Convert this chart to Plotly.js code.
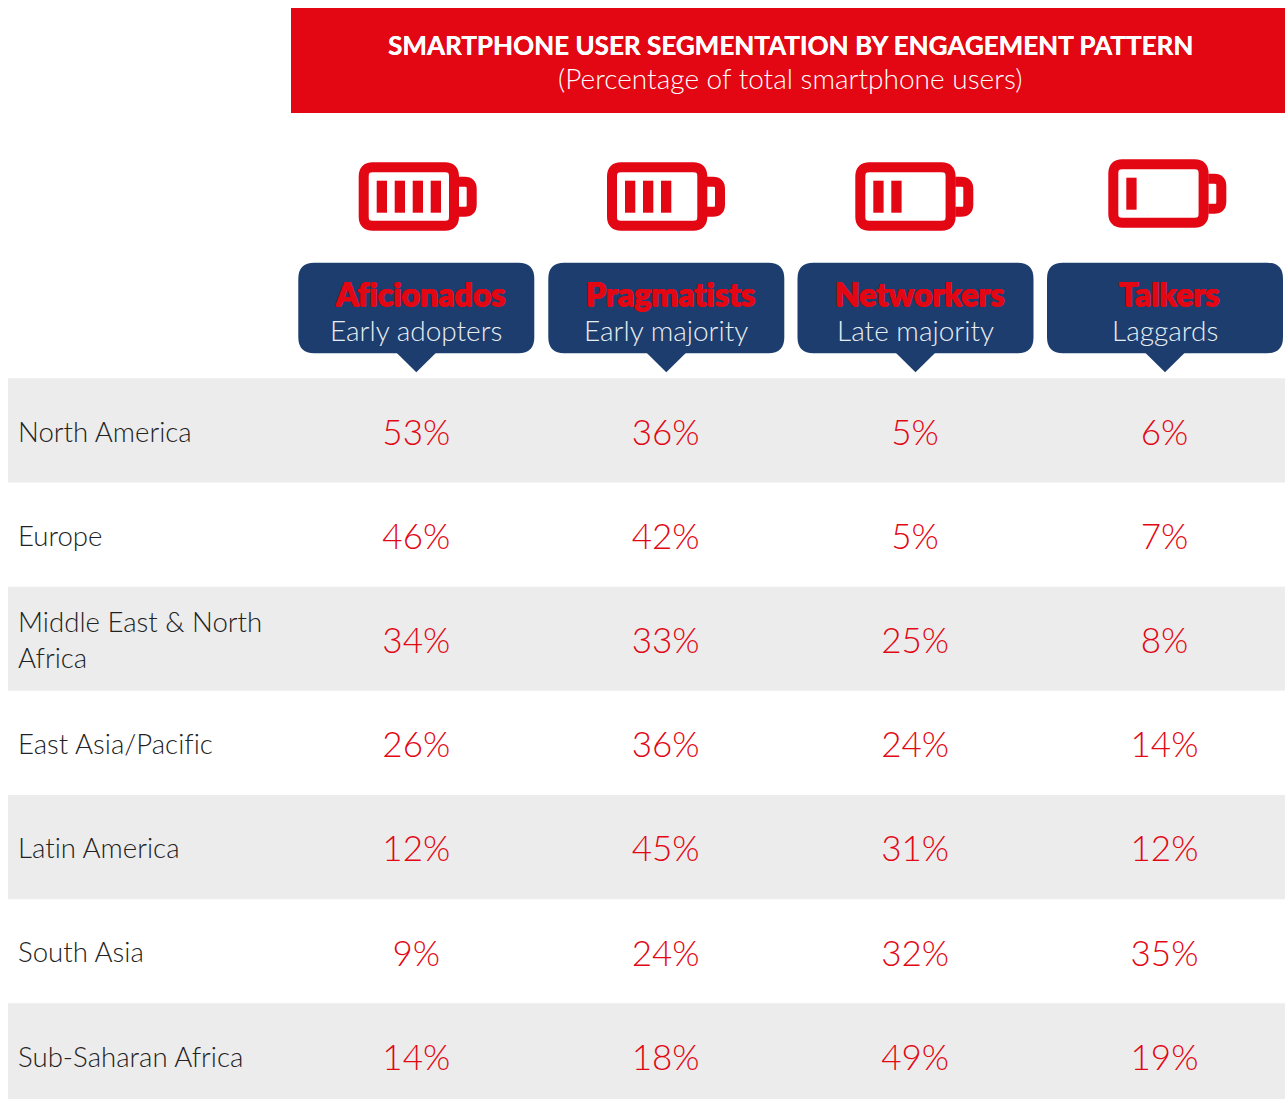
<!DOCTYPE html>
<html><head><meta charset="utf-8">
<script src="https://cdn.plot.ly/plotly-3.0.1.min.js"></script>
<style>html,body{margin:0;padding:0;background:#fff;overflow:hidden} svg text{font-variant-ligatures:none !important;font-feature-settings:"liga" 0,"clig" 0 !important;letter-spacing:0.01px}</style>
</head><body><div id="chart" style="width:1285px;height:1099px"></div>
<script>
const regions = ["North America","Europe","Middle East & North<br>Africa","East Asia/Pacific","Latin America","South Asia","Sub-Saharan Africa"];
const segments = ["Aficionados","Pragmatists","Networkers","Talkers"];
const adoption = ["Early adopters","Early majority","Late majority","Laggards"];
const batteryBars = [4,3,2,1];
const aficionados = [53,46,34,26,12,9,14];
const pragmatists = [36,42,33,36,45,24,18];
const networkers = [5,5,25,24,31,32,49];
const talkers = [6,7,8,14,12,35,19];
const titleMain = "SMARTPHONE USER SEGMENTATION BY ENGAGEMENT PATTERN";
const titleSub = "(Percentage of total smartphone users)";

const W=1285,H=1099,RED="#e30613",BLUE="#1c3d6e",GREY="#ececec",INK="#222222";
const FONT="Lato, sans-serif";
const px=x=>x/W, py=y=>1-y/H;
const P=(x,y)=>px(x)+","+py(y);
function rr(x0,y0,x1,y1,r){return "M"+P(x0+r,y0)+"L"+P(x1-r,y0)+"Q"+P(x1,y0)+" "+P(x1,y0+r)+"L"+P(x1,y1-r)+"Q"+P(x1,y1)+" "+P(x1-r,y1)+"L"+P(x0+r,y1)+"Q"+P(x0,y1)+" "+P(x0,y1-r)+"L"+P(x0,y0+r)+"Q"+P(x0,y0)+" "+P(x0+r,y0)+"Z";}
const paperShape=(path,o)=>Object.assign({type:"path",xref:"paper",yref:"paper",path:path,line:{width:0},layer:"below"},o);
const note=(x,y,text,font)=>({xref:"paper",yref:"paper",x:px(x),y:py(y),xanchor:"center",yanchor:"middle",text:text,showarrow:false,font:font});
const heavy=c=>`0.7px 0 0 ${c}, -0.7px 0 0 ${c}, 0 0.5px 0 ${c}, 0 -0.5px 0 ${c}`;

const shapes=[], annotations=[];
const rowH=104.17, rowTop=378.3;
shapes.push({type:"rect",xref:"paper",yref:"paper",x0:px(291),x1:1,y0:py(113),y1:py(8),fillcolor:RED,line:{width:0},layer:"below"});
annotations.push(note(790,44.5,titleMain,{family:FONT,size:26,color:"#fff",weight:700,shadow:"0.3px 0 0 #fff"}));
annotations.push(note(790,78,titleSub,{family:FONT,size:28,color:"#fff",weight:300}));
regions.forEach((r,i)=>{ if(i%2===0) shapes.push({type:"rect",xref:"paper",yref:"paper",x0:px(8),x1:1,y0:py(rowTop+rowH*(i+1)),y1:py(rowTop+rowH*i),fillcolor:GREY,line:{width:0},layer:"below"}); });
const batX=[358.7,607,855.3,1108.3], batY=[162.3,162.3,162.3,159.3];
const boxX=[298.3,548.3,797.5,1047];
segments.forEach((s,i)=>{
  const x=batX[i],y=batY[i];
  shapes.push(paperShape(rr(x+5,y+5,x+95.3,y+63.4,9),{line:{color:RED,width:10},fillcolor:"rgba(0,0,0,0)"}));
  shapes.push(paperShape("M"+P(x+100,y+19.4)+"L"+P(x+106,y+19.4)+"Q"+P(x+113,y+19.4)+" "+P(x+113,y+26.4)+"L"+P(x+113,y+42.4)+"Q"+P(x+113,y+49.4)+" "+P(x+106,y+49.4)+"L"+P(x+100,y+49.4),{line:{color:RED,width:10},fillcolor:"rgba(0,0,0,0)"}));
  for(let b=0;b<batteryBars[i];b++){
    const bx=x+18+18*b;
    shapes.push({type:"rect",xref:"paper",yref:"paper",x0:px(bx),x1:px(bx+10.3),y0:py(y+50.4),y1:py(y+18.4),fillcolor:RED,line:{width:0},layer:"below"});
  }
  const b0=boxX[i],b1=b0+236,c=(b0+b1)/2;
  shapes.push(paperShape(rr(b0,262.7,b1,353.3,16),{fillcolor:BLUE}));
  shapes.push(paperShape("M"+P(c-19.5,353)+"L"+P(c+19.5,353)+"L"+P(c,372.3)+"Z",{fillcolor:BLUE}));
  annotations.push(note(c+4,293,s,{family:FONT,size:32,color:RED,weight:900,shadow:heavy(RED)}));
  annotations.push(note(c,330,adoption[i],{family:FONT,size:28,color:"#e8edf3",weight:300}));
});
regions.forEach(r=>annotations.push({xref:"paper",yref:"y",x:px(16),y:r,yshift:5,xanchor:"left",yanchor:"middle",align:"left",text:r,showarrow:false,font:{family:FONT,size:27.6,color:INK,weight:300}}));

const allSeries=[aficionados,pragmatists,networkers,talkers];
const data=allSeries.map((vals,i)=>({type:"scatter",mode:"text",name:segments[i],x:regions.map(()=>segments[i]),y:regions,text:vals.map(v=>v+"%"),textposition:"middle center",textfont:{family:FONT,size:35,color:RED,weight:300},hoverinfo:"skip",showlegend:false,cliponaxis:false}));

const colW=249.4,x0c=416.3,y0c=436;
const layout={width:W,height:H,margin:{l:0,r:0,t:0,b:0},paper_bgcolor:"#fff",plot_bgcolor:"rgba(0,0,0,0)",showlegend:false,
 xaxis:{type:"category",categoryorder:"array",categoryarray:segments,range:[(0-x0c)/colW,(W-x0c)/colW],visible:false,fixedrange:true},
 yaxis:{type:"category",categoryorder:"array",categoryarray:regions,range:[(H-y0c)/rowH,(0-y0c)/rowH],visible:false,fixedrange:true},
 shapes:shapes,annotations:annotations};
Plotly.newPlot("chart",data,layout,{displayModeBar:false,staticPlot:true});
</script></body></html>
